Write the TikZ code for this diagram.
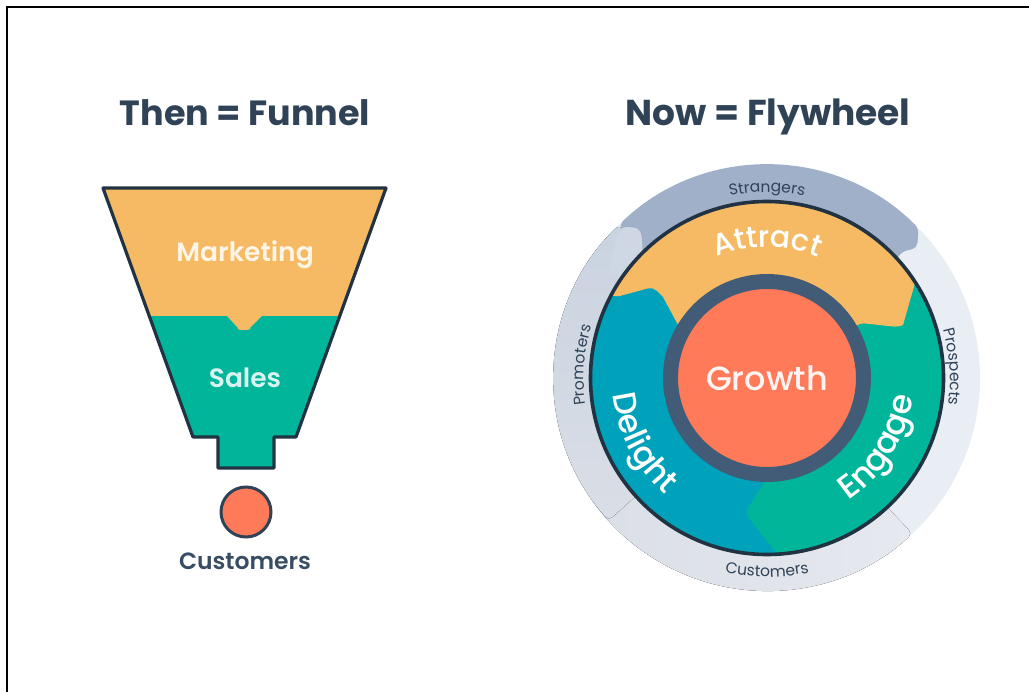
\documentclass[tikz,border=0pt]{standalone}
\usepackage{fontspec}
\setmainfont{Poppins}
\newfontfamily\medf{Poppins SemiBold}
\newfontfamily\midf{Poppins Medium}
\usetikzlibrary{decorations.text}
\definecolor{navy}{HTML}{213343}
\definecolor{slatec}{HTML}{2F4256}
\definecolor{ringc}{HTML}{425B76}
\definecolor{gold}{HTML}{F5BA63}
\definecolor{tealc}{HTML}{00B59A}
\definecolor{bluec}{HTML}{00A2BB}
\definecolor{coral}{HTML}{FF7A59}
\definecolor{strang}{HTML}{A0B0C8}
\definecolor{promo}{HTML}{C9D3E0}
\definecolor{custc}{HTML}{DADEE6}
\definecolor{custr}{HTML}{E6E9EF}
\definecolor{prosp}{HTML}{E9EDF4}
\tikzset{
  titletext/.style={font=\fontsize{#1}{#1}\selectfont\bfseries,text=slatec,inner sep=0pt,anchor=base},
  lighttext/.style={font=\fontsize{26.5}{26.5}\selectfont\medf,text=#1,inner sep=0pt,anchor=base},
  wedge/.style={rounded corners=5pt},
  curved/.style={decorate,decoration={text along path,text align=center,text={#1}}}
}
\newcommand{\bigw}[1]{|\fontsize{#1}{#1}\selectfont\midf\color{white}|}
\newcommand{\smallw}{|\fontsize{15.5}{15.5}\selectfont\color{slatec}|}
\begin{document}
\begin{tikzpicture}[x=1pt,y=-1pt]
\useasboundingbox (0,0) rectangle (1029,692);
\draw[black,line width=2pt] (7,692.5) -- (7,7) -- (1030,7);
% headings
\node[titletext=35] (t1) at (245,126) {Then = Funnel};
\node[titletext=36] (t2) at (768,126) {Now = Flywheel};
% funnel
\path[fill=tealc]
  (103,188) -- (386,188) -- (296,437) -- (274,437) -- (274,468) -- (218,468) -- (218,437) -- (193,437) -- cycle;
\path[fill=gold] (103,188) -- (386,188) -- (339.7,316) -- (262,316) -- (250,328)
  to[out=-35,in=-145] (238,328) -- (227,316) -- (149.3,316) -- cycle;
\path[draw=navy,line width=3.2pt,line join=round]
  (103,188) -- (386,188) -- (296,437) -- (274,437) -- (274,468) -- (218,468) -- (218,437) -- (193,437) -- cycle;
\node[lighttext=gold!15!white] (m) at (245,262) {Marketing};
\node[lighttext=white!85!tealc] (s) at (245,388) {Sales};
\node[circle,fill=coral,draw=slatec,line width=3pt,minimum size=50pt,inner sep=0pt] (c) at (246,512) {};
\node[font=\fontsize{23.5}{23.5}\selectfont\medf,text=ringc!85!black,inner sep=0pt,anchor=base] (cu) at (245,569) {Customers};
% flywheel
\begin{scope}[x=1pt,y=1pt,shift={(767pt,-378pt)}]
\fill[prosp] (0,0) circle[radius=213];
\fill[wedge,left color=custc,right color=custr] (-47:213) arc[start angle=-47,end angle=-150,radius=213] -- (-150:170) arc[start angle=-150,end angle=-47,radius=170] -- cycle;
\fill[wedge,top color=promo,bottom color=custc] (222:213) arc[start angle=222,end angle=134,radius=213] -- (134:170) -- (222:170) -- cycle;
\fill[strang,wedge] (134:213) arc[start angle=134,end angle=44.6,radius=213] -- (150,130) -- (134,126) -- (120,100) -- (-120,100) -- cycle;
\fill[promo!90!white,rounded corners=8pt] (-147.5,151.5) -- (-126,150) -- (-124,122) -- (-160,100) -- cycle;
% main disc
\fill[bluec] (0,0) circle[radius=177];
\fill[tealc,wedge] (33:177) arc[start angle=33,end angle=-86,radius=177] -- (-86.5:177) -- (-22,-135) -- (3,-95) -- (0,0) -- cycle;
\fill[gold] (152:177) arc[start angle=152,end angle=33,radius=177] -- (136,53)
  [rounded corners=4pt] -- (131,51) -- (93,55) [sharp corners] -- (30:100) arc[start angle=30,end angle=150,radius=100]
  -- (-90,55) -- (-104,81) [rounded corners=5pt] -- (-114,91) -- (152:172) [sharp corners] -- cycle;
\draw[navy,line width=3.6pt] (0,0) circle[radius=176.5];
\node[circle,fill=coral,draw=ringc,line width=15pt,minimum size=193pt,inner sep=0pt] (g) at (0,0) {};
\node[font=\fontsize{33.5}{33.5}\selectfont\midf,text=white!92!coral,inner sep=0pt] (gl) at (0,0) {Growth};
% curved labels
\path[curved={\bigw{30}Attract}] (125:131) arc[start angle=125,end angle=55,radius=131];
\path[curved={\bigw{32.5}Delight}] (160:155) arc[start angle=160,end angle=255,radius=155];
\path[curved={\bigw{33}Engage}] (-85:147) arc[start angle=-85,end angle=21,radius=147];
\path[curved={\smallw Strangers}] (120:186) arc[start angle=120,end angle=60,radius=186];
\path[curved={\smallw Customers}] (-125:199) arc[start angle=-125,end angle=-55,radius=199];
\path[curved={\smallw Promoters}] (212:183) arc[start angle=212,end angle=140,radius=183];
\path[curved={\smallw Prospects}] (39:183) arc[start angle=39,end angle=-32,radius=183];
\end{scope}
\end{tikzpicture}
\end{document}
